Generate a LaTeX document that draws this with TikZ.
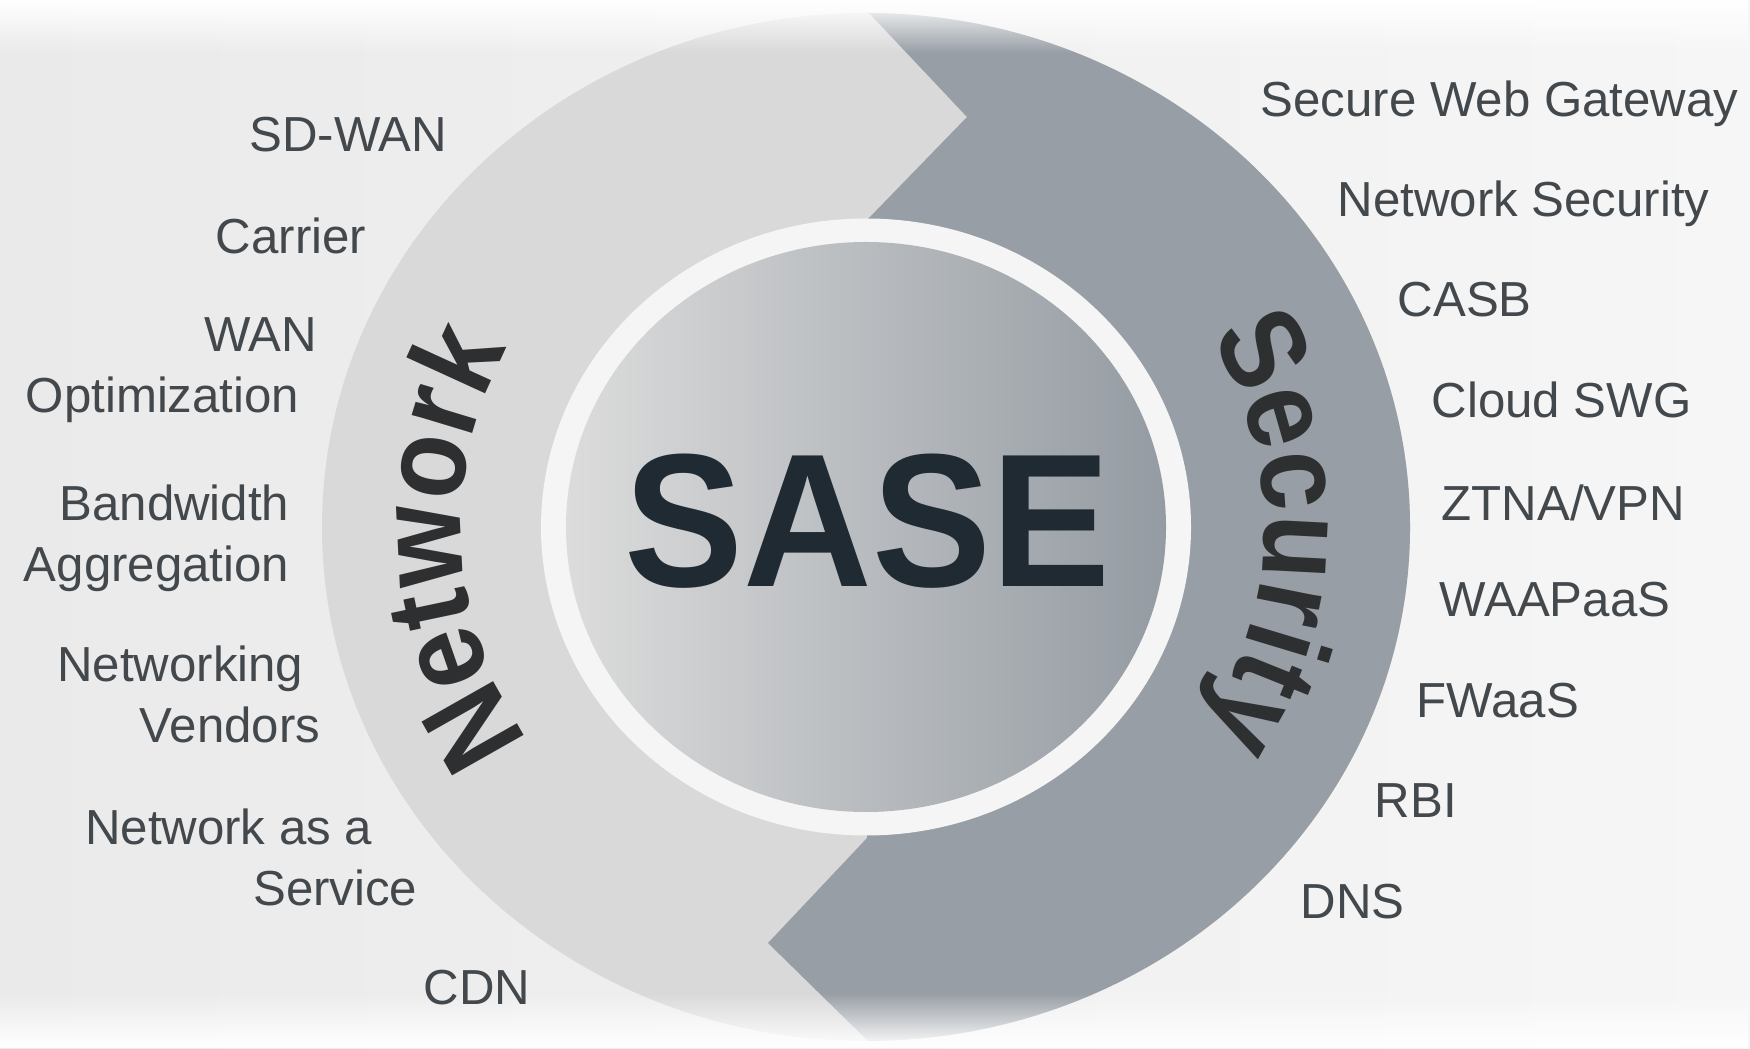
\documentclass[tikz,border=0pt]{standalone}
\usepackage{fontspec}
\setmainfont{Liberation Sans}
\usetikzlibrary{decorations.text,fadings}
\definecolor{bgleft}{HTML}{EAEAEA}
\definecolor{bgright}{HTML}{F6F6F6}
\definecolor{netgray}{HTML}{D9D9D9}
\definecolor{secgray}{HTML}{979EA5}
\definecolor{ringwhite}{HTML}{F5F5F5}
\definecolor{discleft}{HTML}{DCDCDC}
\definecolor{discright}{HTML}{949BA2}
\definecolor{labelgray}{HTML}{43484D}
\definecolor{titleink}{HTML}{1F2A33}
\definecolor{arcink}{HTML}{2E2F31}
\tikzfading[name=fadedown, top color=transparent!100, bottom color=transparent!0]
\tikzfading[name=fadeup, top color=transparent!0, bottom color=transparent!100]

\begin{document}
\begin{tikzpicture}[
  lbl/.style={inner sep=0pt, text=labelgray, font=\fontsize{14}{17.4}\selectfont},
  lbll/.style={lbl, anchor=east, align=right},
  lblr/.style={lbl, anchor=west, align=left},
  arcword/.style={decorate, decoration={text along path, text align=center, text color=arcink,
    text={|\fontsize{34}{40}\selectfont\bfseries\addfontfeatures{FakeStretch=0.88}|#1}}}]
  \useasboundingbox (0,0) rectangle (17.5,10.48);
  \shade[left color=bgleft, right color=bgright] (0,0) rectangle (17.5,10.48);
  \coordinate (c) at (8.66,5.21);
  \fill[netgray] (c) ellipse [x radius=5.44, y radius=5.14];
  \begin{scope}
    \clip (c) ellipse [x radius=5.44, y radius=5.14];
    \fill[secgray] (8.68,10.6) -- (8.68,10.36) -- (9.67,9.31) -- (8.67,8.28) -- (8.67,2.10)
      -- (7.68,1.05) -- (8.67,0.08) -- (8.67,-0.2) -- (14.5,-0.2) -- (14.5,10.6) -- cycle;
  \end{scope}
  \fill[ringwhite] (c) ellipse [x radius=3.25, y radius=3.085];
  \shade[left color=discleft, right color=discright] (c) ellipse [x radius=3.00, y radius=2.85];
  \fill[white, path fading=fadeup] (0,9.95) rectangle (17.5,10.48);
  \fill[white, path fading=fadedown] (0,0) rectangle (17.5,0.55);

  \node[text=titleink, font=\fontsize{54}{60}\selectfont\bfseries] (sase) at (8.675,5.27) {\scalebox{0.94}[1]{SASE}};

  \path[arcword=Network]
    (c) ++(228:4.05 and 3.84) arc[start angle=228, end angle=138, x radius=4.05, y radius=3.84];
  \path[arcword=Security]
    (c) ++(44:3.98 and 3.78) arc[start angle=44, end angle=-46, x radius=3.98, y radius=3.78];

  \node[lbll] (sdwan) at (4.48,9.13) {SD-WAN};
  \node[lbll] (carrier) at (3.67,8.12) {Carrier};
  \node[lbll] (wanopt) at (3.18,6.78) {WAN\\Optimization\hspace*{0.18cm}};
  \node[lbll] (bandagg) at (2.90,5.10) {Bandwidth\\Aggregation};
  \node[lbll] (netvend) at (3.21,3.54) {Networking\hspace*{0.17cm}\\Vendors};
  \node[lbll] (naas) at (4.18,1.91) {Network as a\hspace*{0.45cm}\\Service};
  \node[lbll] (cdn) at (5.31,0.60) {CDN};

  \node[lblr] (swg) at (12.60,9.44) {Secure Web Gateway};
  \node[lblr] (netsec) at (13.37,8.44) {Network Security};
  \node[lblr] (casb) at (13.97,7.48) {CASB};
  \node[lblr] (cloudswg) at (14.31,6.48) {Cloud SWG};
  \node[lblr] (ztna) at (14.41,5.45) {ZTNA/VPN};
  \node[lblr] (waap) at (14.39,4.48) {WAAPaaS};
  \node[lblr] (fwaas) at (14.16,3.47) {FWaaS};
  \node[lblr] (rbi) at (13.74,2.47) {RBI};
  \node[lblr] (dns) at (13.00,1.46) {DNS};
\end{tikzpicture}
\end{document}
